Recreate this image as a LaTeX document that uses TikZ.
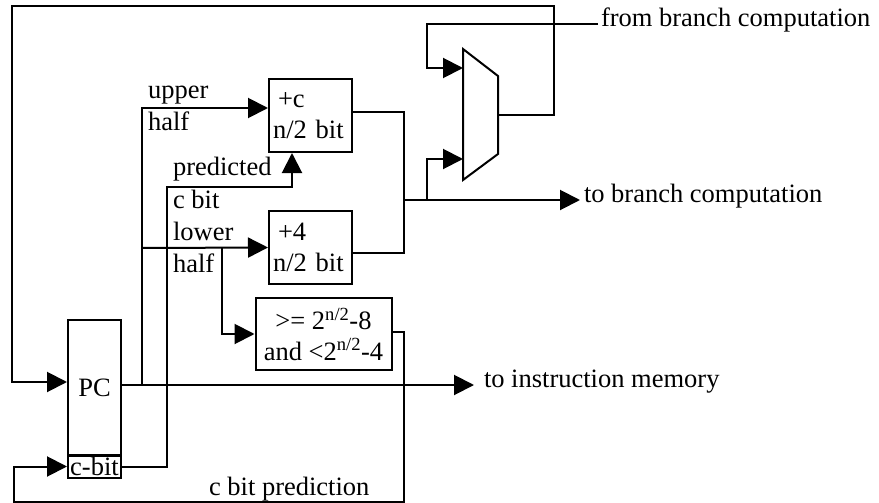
\documentclass[tikz,border=0pt]{standalone}
\usepackage{fontspec}
\setmainfont{Liberation Serif}
\usetikzlibrary{arrows.meta}
\begin{document}
\begin{tikzpicture}[x=1pt,y=-1pt,
  line width=2pt,
  every node/.style={font=\fontsize{26.5}{31}\selectfont, inner sep=0pt},
  arr/.style={-{Triangle[length=20pt,width=20pt]}},
  blk/.style={draw, rectangle},
  addblk/.style={blk, minimum width=83pt, minimum height=73pt, inner xsep=4pt, text width=75pt, align=left},
  lbl/.style={anchor=base west},
  side/.style={anchor=mid west}]
\useasboundingbox (0,0) rectangle (879,503);

% registers and adders
\node[blk, minimum width=53pt, minimum height=136pt] (pc) at (94.5,388) {PC};
\node[blk, minimum width=53pt, minimum height=23pt] (cbit) at (94.5,466.5) {c-bit};
\node[addblk] (addc) at (310.5,115.5) {\hspace{5pt}+c\\n/2 bit};
\node[addblk] (add4) at (310.5,247.5) {\hspace{5pt}+4\\n/2 bit};
\node[blk, minimum width=136pt, minimum height=72pt, align=center] (cmp) at (323.5,334)
  {>= 2\textsuperscript{n/2}-8\\and <2\textsuperscript{n/2}-4};

% multiplexer
\coordinate (muxin1) at (463,68);
\coordinate (muxin2) at (463,159);
\coordinate (muxout) at (498,115);
\draw (463,49) -- (498,76) -- (498,154) -- (463,180) -- cycle;

% external signals
\node[side] (frombc) at (600,24) {from branch computation};
\node[side] (tobc) at (583,200) {to branch computation};
\node[side] (toim) at (483,385) {to instruction memory};

% junction points
\coordinate (pcsplit) at (142,385);
\coordinate (sum) at (404,200);

% mux output fed back to the PC
\draw[arr] (muxout) -- (554,115) -- (554,6) -- (12,6) |- ([yshift=6pt]pc.west);
% PC to instruction memory
\draw[arr] ([yshift=3pt]pc.east) -- ([xshift=-9pt]toim.mid west);
% upper and lower halves of the PC
\draw[arr] (pcsplit) |- ([yshift=7.5pt]addc.west);
\draw[arr] (142,248) -- (add4.west);
\draw[arr] (222,248) |- (cmp.west);
% predicted c bit into the upper adder
\draw[arr] (cbit.east) -| (167,187) -| ([xshift=-18.5pt]addc.south);
% c bit prediction back into the register
\draw[arr] ([yshift=2pt]cmp.east) -| (404,502) -| (14,466.5) -- (cbit.west);
% adder outputs combined
\draw ([yshift=3.5pt]addc.east) -| (sum);
\draw ([yshift=-5.5pt]add4.east) -| (sum);
\draw[arr] (sum) -- ([xshift=-3pt]tobc.mid west);
\draw[arr] (427,200) |- (muxin2);
% branch target into the mux
\draw[arr] ([xshift=-2pt]frombc.mid west) -- (427,24) |- (muxin1);

% labels
\node[lbl] (lup) at (147,99) {upper};
\node[lbl] (lhalf1) at (147,130) {half};
\node[lbl] (lpred) at (172,175) {predicted};
\node[lbl] (lcb) at (172,208) {c bit};
\node[lbl] (llow) at (172,240) {lower};
\node[lbl] (lhalf2) at (172,272) {half};
\node[lbl] (lcbp) at (208,495) {c bit prediction};
\end{tikzpicture}
\end{document}
